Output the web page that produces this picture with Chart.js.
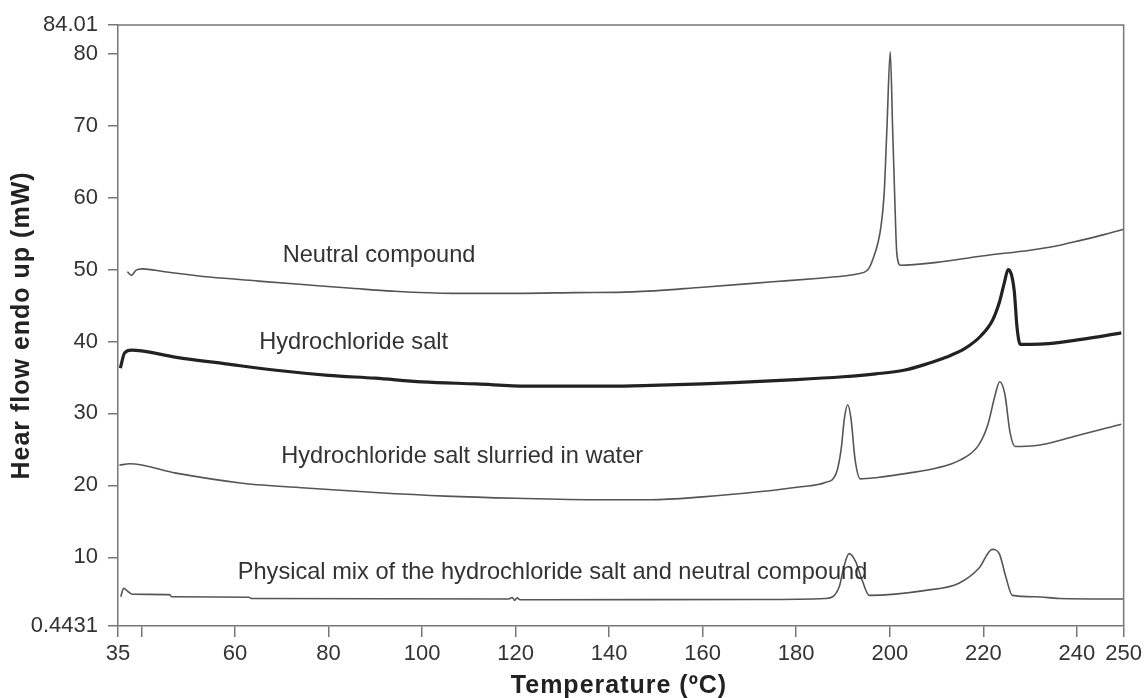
<!DOCTYPE html>
<html>
<head>
<meta charset="utf-8">
<script src="https://cdn.jsdelivr.net/npm/chart.js@4.4.0/dist/chart.umd.min.js"></script>
<style>
  html, body { margin: 0; padding: 0; background: #fff; }
  canvas { display: block; }
</style>
</head>
<body>
<canvas id="dscChart" width="1146" height="698"></canvas>
<script>
// 轴刻度
const xTicks = [35, 40, 60, 80, 100, 120, 140, 160, 180, 200, 220, 240, 250];
const yTicks = [0.4431, 10, 20, 30, 40, 50, 60, 70, 80, 84.01];

// Neutral compound
const neutralT = [37.0, 37.9, 38.8, 40.2, 45, 54.6, 65, 75.9, 85, 93.7, 106.5, 120, 133, 145, 160, 175, 185, 190, 193, 195.2, 196.3, 198.1, 198.8, 199.4, 200.1, 200.6, 201.1, 201.5, 202.3, 210, 219.7, 230, 235, 241, 246, 250];
const neutralHF = [49.7, 49.2, 49.9, 50.1, 49.7, 48.96, 48.4, 47.85, 47.4, 47.0, 46.7, 46.7, 46.8, 46.9, 47.55, 48.3, 48.8, 49.1, 49.4, 49.9, 51.3, 55.9, 60.6, 69.8, 80.3, 69.8, 59.2, 52.3, 50.6, 51.0, 51.9, 52.7, 53.2, 54.1, 54.9, 55.6];

// Hydrochloride salt
const saltT = [35.5, 36.4, 37.9, 40, 47.5, 58, 68.8, 80, 90, 100, 111.6, 122.3, 140, 149, 160, 170, 180, 190, 197, 203, 208, 212, 216, 219.5, 222, 223.5, 224.5, 225.3, 226.6, 227.2, 227.9, 230, 234, 241, 249.5];
const saltHF = [36.3, 38.4, 38.8, 38.7, 37.8, 36.9, 36.0, 35.3, 34.9, 34.4, 34.1, 33.8, 33.8, 33.9, 34.1, 34.4, 34.7, 35.1, 35.5, 36.0, 36.9, 37.8, 39.0, 40.8, 43.0, 45.6, 48.2, 50.0, 47.1, 42.0, 39.6, 39.6, 39.7, 40.3, 41.2];

// Hydrochloride salt slurried in water
const slurryT = [35.3, 37.5, 47.4, 61.6, 75.9, 90, 105, 120, 138, 149, 160, 172, 181, 186.2, 188.5, 189.6, 190.3, 191.0, 191.7, 192.6, 193.7, 197.4, 204, 210, 215, 219, 221, 222.5, 223.5, 224.6, 225.7, 226.8, 230.9, 240, 249.5];
const slurryHF = [22.8, 23.0, 21.7, 20.3, 19.6, 19.0, 18.5, 18.2, 18.0, 18.0, 18.4, 19.1, 19.8, 20.4, 21.6, 25.0, 29.3, 31.2, 29.3, 23.5, 20.9, 21.1, 21.7, 22.4, 23.5, 25.6, 28.5, 32.5, 34.4, 32.7, 27.4, 25.4, 25.5, 26.9, 28.5];

// Physical mix
const mixT = [35.6, 36.2, 37.2, 38.2, 46, 46.5, 63, 63.5, 118.5, 119.3, 119.8, 120.3, 121, 172, 186.3, 189.2, 190.2, 191.3, 192.7, 194.1, 195.6, 207.7, 214.8, 219.1, 221.9, 223.4, 224.8, 226.2, 231.2, 236.2, 250];
const mixHF = [4.5, 5.7, 5.2, 4.85, 4.8, 4.5, 4.45, 4.27, 4.2, 4.4, 4.0, 4.35, 4.1, 4.13, 4.27, 5.9, 8.7, 10.5, 9.4, 6.8, 4.7, 5.4, 6.4, 8.5, 11.1, 10.5, 7.3, 4.7, 4.5, 4.27, 4.2];

const curveNames = ['Neutral compound', 'Hydrochloride salt', 'Hydrochloride salt slurried in water', 'Physical mix of the hydrochloride salt and neutral compound'];
const xTitle = 'Temperature (ºC)';
const yTitle = 'Hear flow endo up (mW)';

const FONT = '"Liberation Sans", Arial, Helvetica, sans-serif';

function toPoints(xs, ys) {
    return xs.map((x, i) => ({ x: x, y: ys[i] }));
}

// 曲线旁的文字标注（左端、垂直中心，数据坐标）
const labelPlugin = {
    id: 'curveLabels',
    afterDatasetsDraw(chart) {
        const { ctx, scales } = chart;
        const spots = [[70.2, 52.0], [65.2, 39.9], [69.9, 24.0], [60.6, 7.9]];
        ctx.save();
        ctx.font = '23.6px ' + FONT;
        ctx.fillStyle = '#333';
        ctx.textAlign = 'left';
        ctx.textBaseline = 'middle';
        curveNames.forEach((name, i) => {
            ctx.fillText(name, scales.x.getPixelForValue(spots[i][0]), scales.y.getPixelForValue(spots[i][1]));
        });
        ctx.restore();
    }
};

// 上边框、右边框和轴标题
const framePlugin = {
    id: 'frame',
    afterDraw(chart) {
        const { ctx, chartArea: a } = chart;
        ctx.save();
        ctx.strokeStyle = '#777';
        ctx.lineWidth = 1.5;
        ctx.beginPath();
        ctx.moveTo(a.left, a.top);
        ctx.lineTo(a.right, a.top);
        ctx.lineTo(a.right, a.bottom);
        ctx.stroke();

        ctx.fillStyle = '#222';
        ctx.font = 'bold 25px ' + FONT;
        ctx.letterSpacing = '1px';
        ctx.textAlign = 'center';
        ctx.textBaseline = 'middle';
        ctx.fillText(xTitle, 619, 686);
        ctx.translate(22, (a.top + a.bottom) / 2);
        ctx.rotate(-Math.PI / 2);
        ctx.fillText(yTitle, 0, 0);
        ctx.restore();
    }
};

const thin = { borderColor: '#555', borderWidth: 1.6 };

new Chart(document.getElementById('dscChart'), {
    type: 'line',
    data: {
        datasets: [
            Object.assign({ label: curveNames[0], data: toPoints(neutralT, neutralHF) }, thin),
            { label: curveNames[1], data: toPoints(saltT, saltHF), borderColor: '#222', borderWidth: 3.2 },
            Object.assign({ label: curveNames[2], data: toPoints(slurryT, slurryHF) }, thin),
            Object.assign({ label: curveNames[3], data: toPoints(mixT, mixHF) }, thin)
        ]
    },
    options: {
        responsive: false,
        animation: false,
        layout: { padding: { top: 25, right: 21, left: 0, bottom: 0 } },
        elements: {
            point: { radius: 0 },
            line: { cubicInterpolationMode: 'monotone', fill: false }
        },
        plugins: {
            legend: { display: false },
            tooltip: { enabled: false }
        },
        scales: {
            x: {
                type: 'linear',
                min: 35,
                max: 250,
                afterBuildTicks: s => { s.ticks = xTicks.map(v => ({ value: v })); },
                afterFit: s => { s.height = 72; },
                ticks: {
                    autoSkip: false,
                    maxRotation: 0,
                    padding: 4,
                    color: '#333',
                    font: { family: FONT, size: 22 },
                    callback: v => (v === 40 ? '' : v)
                },
                grid: { drawOnChartArea: false, tickLength: 11, color: '#777', lineWidth: 1.5 },
                border: { color: '#777', width: 1.5 }
            },
            y: {
                type: 'linear',
                min: 0.4431,
                max: 84.01,
                afterBuildTicks: s => { s.ticks = yTicks.map(v => ({ value: v })); },
                afterFit: s => { s.width = 118; },
                ticks: {
                    autoSkip: false,
                    padding: 10,
                    color: '#333',
                    font: { family: FONT, size: 22 },
                    callback: v => String(v)
                },
                grid: { drawOnChartArea: false, tickLength: 10, color: '#777', lineWidth: 1.5 },
                border: { color: '#777', width: 1.5 }
            }
        }
    },
    plugins: [labelPlugin, framePlugin]
});
</script>
</body>
</html>
